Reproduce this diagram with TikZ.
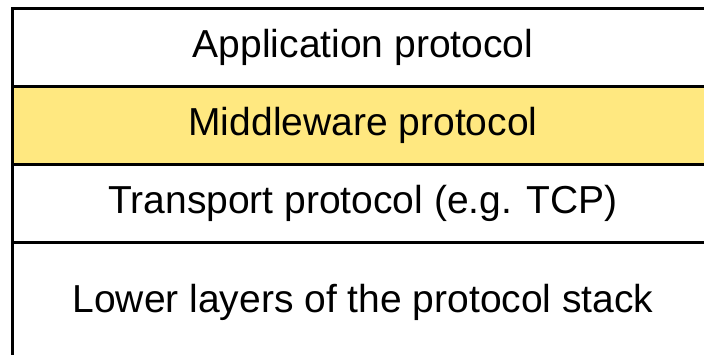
\documentclass[tikz,border=0pt]{standalone}
\usepackage{fontspec}
\setmainfont{Liberation Sans}
\usepackage{xcolor}
\usepackage{tikz}
\usetikzlibrary{positioning}

\definecolor{mwyellow}{RGB}{255,232,128}

\tikzset{
    layer/.style={draw, line width=3pt, minimum width=702pt, minimum height=78pt,
        inner sep=0pt, outer sep=0pt, font=\fontsize{39}{47}\selectfont},
}

\begin{document}
\begin{tikzpicture}[x=1pt, y=-1pt]
\useasboundingbox (0,0) rectangle (704,354);
\clip (0,0) rectangle (704,354);

\node[layer, anchor=north west] (app) at (12,8) {Application protocol};
\node[layer, fill=mwyellow, below=0pt of app] (mid) {Middleware protocol};
\node[layer, below=0pt of mid] (trans) {Transport protocol (e.g. TCP)};
\node[layer, minimum height=120pt, below=0pt of trans] (lower) {Lower layers of the protocol stack};
\end{tikzpicture}
\end{document}
